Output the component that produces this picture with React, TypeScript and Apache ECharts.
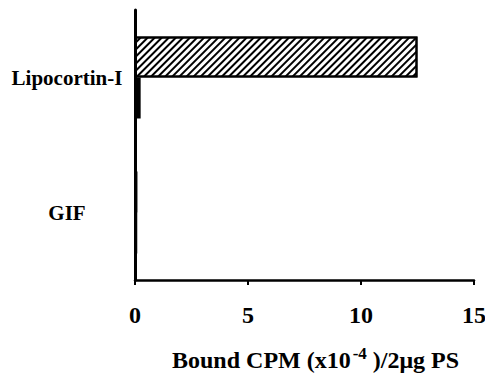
import React, { useEffect, useRef } from 'react';
import * as echarts from 'echarts';

const categories = ['GIF', 'Lipocortin-I'];
const hatchedValues = [0.1, 12.5];
const solidValues = [0.1, 0.25];
const xMin = 0;
const xMax = 15;
const xInterval = 5;
const titleMain = 'Bound CPM (x10';
const titleSup = '-4';
const titleRest = ' )/2μg PS';

export default function App() {
  const ref = useRef<HTMLDivElement>(null);
  useEffect(() => {
    const chart = echarts.init(ref.current!, null, { renderer: 'svg' });
    const font = 'Liberation Serif';
    const labelPads: Record<string, number[]> = { 'GIF': [25, 0, 0, 0], 'Lipocortin-I': [4, 0, 0, 0] };
    chart.setOption({
      animation: false,
      backgroundColor: '#fff',
      grid: { left: 135, right: 11, top: 10, bottom: 95, containLabel: false, outerBoundsMode: 'none' },
      xAxis: {
        type: 'value',
        min: xMin,
        max: xMax,
        interval: xInterval,
        axisLine: { show: true, lineStyle: { color: '#000', width: 2.5 } },
        axisTick: { show: true, length: 5, lineStyle: { color: '#000', width: 2 } },
        splitLine: { show: false },
        axisLabel: { margin: 23, color: '#000', fontFamily: font, fontWeight: 'bold', fontSize: 24, hideOverlap: false },
      },
      yAxis: {
        type: 'category',
        data: categories.map((c) => ({
          value: c,
          textStyle: { padding: labelPads[c], align: 'center', fontFamily: font, fontWeight: 'bold', fontSize: 21, color: '#000' },
        })),
        axisLine: { show: true, lineStyle: { color: '#000', width: 3 } },
        axisTick: { show: false },
        axisLabel: { align: 'center', margin: 68, color: '#000', fontFamily: font, fontWeight: 'bold', fontSize: 21 },
      },
      series: [
        {
          name: 'hatched',
          type: 'bar',
          data: hatchedValues,
          barWidth: 41,
          barGap: '0%',
          itemStyle: {
            color: '#fff',
            borderColor: '#000',
            borderWidth: 2,
            decal: {
              symbol: 'rect',
              symbolSize: 1,
              color: '#000',
              dashArrayX: [1, 0],
              dashArrayY: [2, 2.7],
              rotation: -Math.PI / 4,
            },
          },
        },
        {
          name: 'solid',
          type: 'bar',
          data: solidValues,
          barWidth: 41,
          barGap: '0%',
          itemStyle: { color: '#000' },
        },
      ],
      graphic: [
        {
          type: 'text',
          left: 172,
          top: 345,
          style: {
            text: titleMain + '{sup|' + titleSup + '}' + titleRest,
            font: 'bold 24px "Liberation Serif"',
            fill: '#000',
            rich: {
              sup: { fontFamily: font, fontWeight: 'bold', fontSize: 17, verticalAlign: 'top', padding: [0, 0, 12, 2] },
            },
          },
        },
      ],
    });
    return () => chart.dispose();
  }, []);
  return <div ref={ref} style={{ position: 'fixed', left: 0, top: 0, width: 485, height: 375 }} />;
}
